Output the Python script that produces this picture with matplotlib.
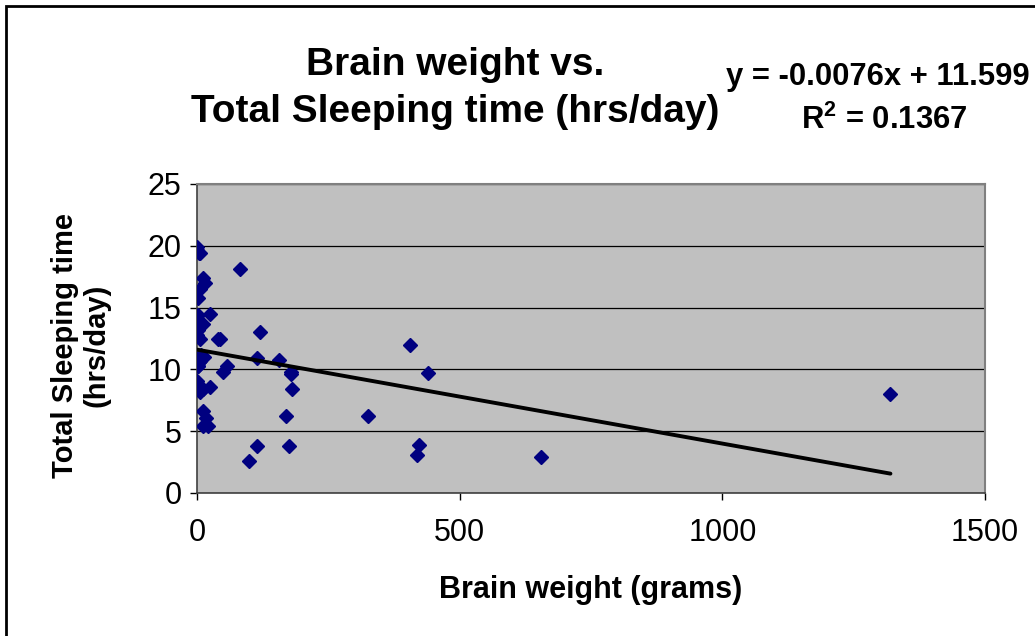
import numpy as np
import matplotlib.pyplot as plt
from matplotlib.patches import Rectangle

plt.rcParams['font.family'] = ['Liberation Sans', 'DejaVu Sans']
plt.rcParams['mathtext.fontset'] = 'custom'
plt.rcParams['mathtext.rm'] = 'Liberation Sans:bold'
plt.rcParams['mathtext.it'] = 'Liberation Sans:bold'
plt.rcParams['mathtext.bf'] = 'Liberation Sans:bold'

# brain weight (g) and total sleep (hrs/day), mammals with known sleep, elephants left out
brain_wt = [6.6, 44.5, 5.7, 179.5, 0.3, 169, 25.6, 440, 6.4, 423,
            2.4, 419, 1.2, 25, 3.5, 5, 17.5, 81, 115, 1,
            406, 325, 119.5, 4, 5.5, 655, 157, 0.14, 0.25, 1320,
            3, 8.1, 0.4, 0.33, 6.3, 10.8, 15.5, 115, 11.4, 180,
            12.1, 39.2, 1.9, 50.4, 179, 12.3, 21, 98.2, 175, 12.5,
            1, 2.6, 12.3, 2.5, 58, 3.9]
total_sleep = [8.3, 12.5, 16.5, 9.8, 19.7, 6.2, 14.5, 9.7, 12.5, 3.9,
               10.3, 3.1, 8.4, 8.6, 10.7, 10.7, 6.1, 18.1, 3.8, 14.4,
               12.0, 6.2, 13.0, 13.8, 8.2, 2.9, 10.8, 9.1, 19.9, 8.0,
               10.6, 11.2, 13.2, 12.8, 19.4, 17.4, 17.0, 10.9, 13.7, 8.4,
               8.4, 12.5, 13.2, 9.8, 9.6, 6.6, 5.4, 2.6, 3.8, 11.0,
               10.3, 13.3, 5.4, 15.8, 10.3, 19.4]

# trend line as printed on the chart
slope = -0.0076
intercept = 11.599
r_squared = 0.1367

x_ticks = [0, 500, 1000, 1500]
y_ticks = [0, 5, 10, 15, 20, 25]

W, H = 1035, 636
fig = plt.figure(figsize=(W / 100, H / 100), dpi=100)
ax = fig.add_axes([197 / W, 1 - 493 / H, (985 - 197) / W, (493 - 184) / H])
ax.set_facecolor('#C0C0C0')

ax.plot(brain_wt, total_sleep, linestyle='none', marker='D', ms=7.2,
        color='#000080', zorder=3)

xs = np.array([0, max(brain_wt)])
ax.plot(xs, slope * xs + intercept, color='black', lw=2.8, zorder=4,
        solid_capstyle='round')

ax.set_xlim(0, 1500)
ax.set_ylim(0, 25)
ax.set_xticks(x_ticks)
ax.set_yticks(y_ticks)
ax.tick_params(labelsize=22, length=5, width=1, direction='out', color='black')
ax.tick_params(axis='x', pad=13)
ax.tick_params(axis='y', pad=6)
ax.yaxis.grid(True, color='black', lw=0.9)
ax.set_axisbelow(True)
for s in ['top', 'right']:
    ax.spines[s].set_color('#808080')
    ax.spines[s].set_linewidth(1.5)
for s in ['left', 'bottom']:
    ax.spines[s].set_color('#404040')
    ax.spines[s].set_linewidth(1.2)

fig.text(455 / W, 1 - 65 / H, 'Brain weight vs.', ha='center', va='center',
         fontsize=28, fontweight='bold')
fig.text(455 / W, 1 - 112 / H, 'Total Sleeping time (hrs/day)', ha='center',
         va='center', fontsize=28, fontweight='bold')

fig.text(726 / W, 1 - 77 / H, 'y = %.4fx + %.3f' % (slope, intercept),
         ha='left', va='center', fontsize=22.3, fontweight='bold')
fig.text(884 / W, 1 - 120 / H, r'R$^{2}$ = %.4f' % r_squared, ha='center',
         va='center', fontsize=22.3, fontweight='bold')

fig.text(591 / W, 1 - 590 / H, 'Brain weight (grams)', ha='center',
         va='center', fontsize=22, fontweight='bold')
fig.text(81 / W, 1 - 345 / H, 'Total Sleeping time\n(hrs/day)', ha='center',
         va='center', rotation=90, fontsize=21, fontweight='bold',
         linespacing=1.15)

fig.patches.append(Rectangle((6 / W, -0.1), 1.2, 1 - 6 / H + 0.1,
                             transform=fig.transFigure, fill=False,
                             edgecolor='black', lw=2))

plt.savefig('out.png', dpi=100)
